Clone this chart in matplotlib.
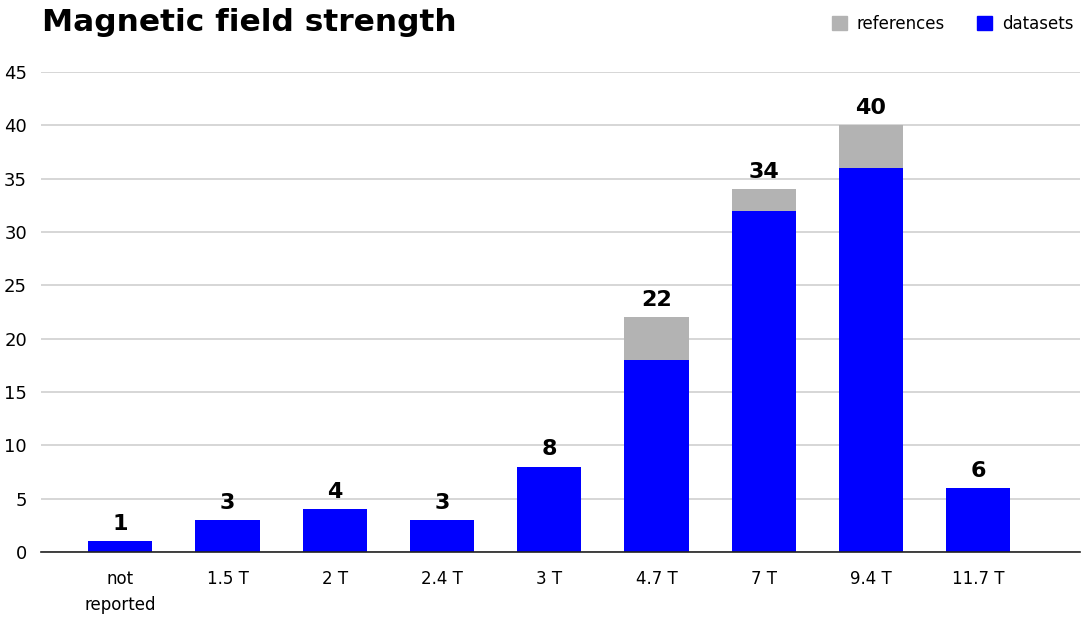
import matplotlib
matplotlib.use("Agg")
import matplotlib.pyplot as plt
from matplotlib.patches import Patch

categories = ["not\nreported", "1.5 T", "2 T", "2.4 T", "3 T", "4.7 T", "7 T", "9.4 T", "11.7 T"]
datasets = [1, 3, 4, 3, 8, 18, 32, 36, 6]
references = [0, 0, 0, 0, 0, 4, 2, 4, 0]
yticks = [0, 5, 10, 15, 20, 25, 30, 35, 40, 45]

plt.rcParams['font.family'] = ['DejaVu Sans']

fig = plt.figure(figsize=(10.84, 6.18), dpi=100)
ax = fig.add_axes([0.0378, 0.1068, 0.9585, 0.7767])

x = list(range(len(categories)))
blue = "#0000ff"
gray = "#b3b3b3"
ax.bar(x, datasets, width=0.6, color=blue, zorder=3)
ax.bar(x, references, width=0.6, bottom=datasets, color=gray, zorder=3)

for xi, d, r in zip(x, datasets, references):
    tot = d + r
    ax.text(xi, tot + 0.7, str(tot), ha="center", va="bottom", fontsize=16, fontweight="bold", zorder=4)

ax.set_ylim(0, 45)
ax.set_xlim(-0.74, 8.95)
ax.set_yticks(yticks)
ax.set_xticks(x)
ax.set_xticklabels(categories, fontsize=12, linespacing=1.6)
ax.tick_params(axis="y", labelsize=13, length=0, pad=10)
ax.tick_params(axis="x", length=0, pad=13)
ax.yaxis.grid(True, color="#d0d0d0", linewidth=1.2, zorder=0)
for s in ["top", "right", "left"]:
    ax.spines[s].set_visible(False)
ax.spines["bottom"].set_color("#222222")
ax.spines["bottom"].set_linewidth(1.2)
ax.spines["bottom"].set_zorder(5)

fig.text(0.0387, 0.963, "Magnetic field strength", fontsize=22.5, fontweight="bold", ha="left", va="center")

handles = [Patch(color=gray, label="references"), Patch(color=blue, label="datasets")]
fig.legend(handles=handles, loc="upper right", bbox_to_anchor=(1.004, 1.0), ncol=2, frameon=False,
           fontsize=12, handlelength=0.9, handleheight=0.9, handletextpad=0.6, columnspacing=1.9)

fig.savefig("out.png", dpi=100)
